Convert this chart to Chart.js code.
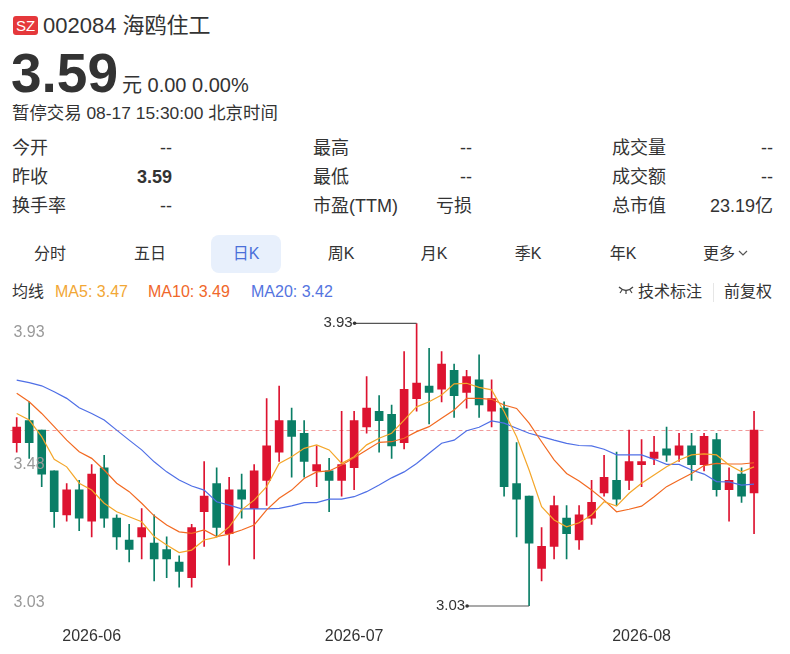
<!DOCTYPE html>
<html>
<head>
<meta charset="utf-8">
<script src="https://cdn.jsdelivr.net/npm/chart.js@4.4.1/dist/chart.umd.min.js"></script>
<style>
body{margin:0;width:790px;height:654px;background:#fff;position:relative;overflow:hidden;
  font-family:"Liberation Sans",Arial,"Noto Sans CJK SC",sans-serif;color:#333}
.a{position:absolute;white-space:nowrap}
.badge{left:13px;top:16px;width:25px;height:19px;background:#e5383b;color:#fff;border-radius:3px;
  font-size:15px;line-height:19px;text-align:center}
.title{left:43px;top:12px;font-size:22px;line-height:28px}
.price{left:11px;top:46px;font-size:55px;line-height:54px;font-weight:bold}
.chg{left:122px;top:75px;font-size:20px;line-height:20px}
.sub{left:12px;top:101px;font-size:17.4px;line-height:24px}
.row{font-size:18px;line-height:24px}
.r{text-align:right;width:120px}
.tab{font-size:16px;line-height:24px;top:242px;width:80px;text-align:center}
.tabon{left:211px;top:235px;width:70px;height:38px;background:#e8f0fc;border-radius:8px}
.leg{top:281px;font-size:16px;line-height:22px}
#wrap{position:absolute;left:0;top:310px;width:790px;height:344px}
</style>
</head>
<body>
<div class="a badge">SZ</div>
<div class="a title">002084 海鸥住工</div>
<div class="a price">3.59</div>
<div class="a chg">元 0.00 0.00%</div>
<div class="a sub">暂停交易 08-17 15:30:00 北京时间</div>

<div class="a row" style="left:12px;top:136px">今开</div>
<div class="a row r" style="left:52px;top:136px">--</div>
<div class="a row" style="left:12px;top:165px">昨收</div>
<div class="a row r" style="left:52px;top:165px;font-weight:bold">3.59</div>
<div class="a row" style="left:12px;top:194px">换手率</div>
<div class="a row r" style="left:52px;top:194px">--</div>

<div class="a row" style="left:313px;top:136px">最高</div>
<div class="a row r" style="left:352px;top:136px">--</div>
<div class="a row" style="left:313px;top:165px">最低</div>
<div class="a row r" style="left:352px;top:165px">--</div>
<div class="a row" style="left:313px;top:194px">市盈(TTM)</div>
<div class="a row r" style="left:352px;top:194px">亏损</div>

<div class="a row" style="left:612px;top:136px">成交量</div>
<div class="a row r" style="left:653px;top:136px">--</div>
<div class="a row" style="left:612px;top:165px">成交额</div>
<div class="a row r" style="left:653px;top:165px">--</div>
<div class="a row" style="left:612px;top:194px">总市值</div>
<div class="a row r" style="left:653px;top:194px">23.19亿</div>

<div class="a tabon"></div>
<div class="a tab" style="left:10px">分时</div>
<div class="a tab" style="left:110px">五日</div>
<div class="a tab" style="left:206px;color:#4a6fd9">日K</div>
<div class="a tab" style="left:301px">周K</div>
<div class="a tab" style="left:394px">月K</div>
<div class="a tab" style="left:488px">季K</div>
<div class="a tab" style="left:583px">年K</div>
<div class="a tab" style="left:686px">更多<svg width="12" height="10" style="margin-left:2px;vertical-align:1px"><polyline points="2,3 6,7 10,3" fill="none" stroke="#555" stroke-width="1.2"/></svg></div>

<div class="a leg" style="left:12px">均线</div>
<div class="a leg" style="left:55px;color:#f2a735">MA5: 3.47</div>
<div class="a leg" style="left:148px;color:#f0672a">MA10: 3.49</div>
<div class="a leg" style="left:251px;color:#5474e0">MA20: 3.42</div>
<div class="a leg" style="left:618px"><svg width="16" height="10" style="margin-right:4px;vertical-align:2px"><path d="M1,2 Q8,9 15,2" fill="none" stroke="#444" stroke-width="1.3"/><line x1="4" y1="5" x2="2" y2="8" stroke="#444" stroke-width="1.2"/><line x1="8" y1="6" x2="8" y2="9" stroke="#444" stroke-width="1.2"/><line x1="12" y1="5" x2="14" y2="8" stroke="#444" stroke-width="1.2"/></svg>技术标注</div>
<div class="a" style="left:713px;top:283px;width:1px;height:19px;background:#e6e6e6"></div>
<div class="a leg" style="left:724px">前复权</div>

<div id="wrap"><canvas id="kline" width="790" height="344"></canvas></div>

<script>
const dates = [
  '2026-05-22','2026-05-25','2026-05-26','2026-05-27','2026-05-28','2026-05-29',
  '2026-06-01','2026-06-02','2026-06-03','2026-06-04','2026-06-05','2026-06-08','2026-06-09','2026-06-10',
  '2026-06-11','2026-06-12','2026-06-15','2026-06-16','2026-06-17','2026-06-18','2026-06-22','2026-06-23',
  '2026-06-24','2026-06-25','2026-06-26','2026-06-29','2026-06-30',
  '2026-07-01','2026-07-02','2026-07-03','2026-07-06','2026-07-07','2026-07-08','2026-07-09','2026-07-10',
  '2026-07-13','2026-07-14','2026-07-15','2026-07-16','2026-07-17','2026-07-20','2026-07-21','2026-07-22',
  '2026-07-23','2026-07-24','2026-07-27','2026-07-28','2026-07-29','2026-07-30','2026-07-31',
  '2026-08-03','2026-08-04','2026-08-05','2026-08-06','2026-08-07','2026-08-10','2026-08-11','2026-08-12',
  '2026-08-13','2026-08-14'
];

const opens = [3.55,3.62,3.59,3.46,3.32,3.40,3.30,3.47,3.31,3.24,
  3.25,3.23,3.21,3.17,3.12,3.33,3.42,3.26,3.40,3.34,
  3.43,3.52,3.62,3.58,3.46,3.46,3.43,3.47,3.60,3.65,
  3.64,3.55,3.69,3.73,3.72,3.78,3.71,3.75,3.65,3.66,
  3.42,3.38,3.15,3.22,3.31,3.24,3.31,3.39,3.43,3.43,
  3.48,3.50,3.53,3.51,3.54,3.48,3.56,3.40,3.45,3.39];
const closes = [3.60,3.55,3.45,3.33,3.40,3.31,3.45,3.31,3.25,3.21,
  3.28,3.18,3.18,3.14,3.28,3.38,3.28,3.40,3.37,3.46,
  3.54,3.62,3.57,3.49,3.48,3.43,3.48,3.62,3.66,3.62,
  3.54,3.72,3.74,3.71,3.80,3.70,3.76,3.67,3.69,3.41,
  3.37,3.23,3.22,3.35,3.26,3.32,3.36,3.44,3.37,3.49,
  3.49,3.52,3.51,3.54,3.48,3.57,3.40,3.43,3.38,3.59];
const highs = [3.63,3.68,3.59,3.46,3.42,3.43,3.48,3.51,3.32,3.29,
  3.34,3.32,3.25,3.19,3.29,3.49,3.47,3.44,3.45,3.48,
  3.69,3.73,3.66,3.62,3.54,3.50,3.65,3.65,3.76,3.70,
  3.67,3.84,3.93,3.85,3.84,3.80,3.78,3.83,3.75,3.68,
  3.55,3.38,3.28,3.38,3.35,3.35,3.43,3.51,3.52,3.59,
  3.56,3.57,3.60,3.58,3.58,3.58,3.58,3.47,3.47,3.65];
const lows = [3.52,3.50,3.41,3.28,3.30,3.27,3.25,3.28,3.21,3.17,
  3.18,3.11,3.12,3.09,3.09,3.22,3.25,3.16,3.31,3.18,
  3.35,3.49,3.44,3.44,3.41,3.33,3.38,3.40,3.58,3.52,
  3.50,3.53,3.65,3.61,3.68,3.63,3.66,3.63,3.60,3.38,
  3.25,3.03,3.11,3.18,3.18,3.21,3.29,3.38,3.35,3.40,
  3.41,3.48,3.49,3.49,3.43,3.46,3.38,3.30,3.36,3.26];

const ma5 = [3.643,3.622,3.569,3.497,3.473,3.421,3.399,3.357,3.330,3.314,
  3.298,3.251,3.224,3.200,3.208,3.240,3.249,3.282,3.336,3.367,
  3.410,3.484,3.505,3.532,3.543,3.527,3.484,3.505,3.543,3.564,
  3.580,3.622,3.664,3.680,3.702,3.737,3.739,3.726,3.718,3.649,
  3.569,3.463,3.346,3.304,3.282,3.295,3.320,3.362,3.348,3.389,
  3.421,3.447,3.473,3.495,3.511,3.514,3.511,3.479,3.457,3.473];
const ma10 = [3.707,3.680,3.643,3.601,3.558,3.521,3.500,3.463,3.421,3.394,
  3.357,3.317,3.288,3.266,3.261,3.272,3.251,3.259,3.272,3.288,
  3.336,3.373,3.399,3.436,3.457,3.460,3.479,3.502,3.527,3.551,
  3.553,3.564,3.585,3.601,3.628,3.654,3.691,3.691,3.688,3.670,
  3.659,3.612,3.553,3.495,3.452,3.428,3.399,3.367,3.330,3.338,
  3.348,3.378,3.410,3.431,3.452,3.477,3.484,3.482,3.482,3.486];
const ma20 = [3.749,3.741,3.731,3.712,3.691,3.661,3.643,3.622,3.590,3.558,
  3.527,3.489,3.457,3.431,3.412,3.399,3.362,3.351,3.339,3.339,
  3.339,3.341,3.349,3.359,3.359,3.370,3.370,3.378,3.394,3.415,
  3.438,3.457,3.484,3.516,3.548,3.558,3.588,3.599,3.619,3.612,
  3.596,3.580,3.569,3.558,3.548,3.541,3.540,3.529,3.511,3.511,
  3.511,3.497,3.481,3.481,3.463,3.450,3.426,3.425,3.415,3.418];

const prevClose = 3.59;
const yTicks = [3.93, 3.48, 3.03];

const UP = '#dd1330';
const DOWN = '#0a7e66';
const candleColors = closes.map((c, i) => c >= opens[i] ? UP : DOWN);

Chart.defaults.font.family = '"Liberation Sans", Arial, sans-serif';

function isMonthStart(i) {
    return i > 0 && dates[i].slice(5, 7) !== dates[i - 1].slice(5, 7);
}

const overlay = {
    id: 'overlay',
    beforeDatasetsDraw(chart) {
        const { ctx, chartArea: a, scales: { y } } = chart;
        const py = Math.round(y.getPixelForValue(prevClose)) + 0.5;
        ctx.save();
        ctx.strokeStyle = '#f29a9a';
        ctx.lineWidth = 1;
        ctx.setLineDash([4, 3]);
        ctx.beginPath();
        ctx.moveTo(a.left, py);
        ctx.lineTo(a.right + 5, py);
        ctx.stroke();
        ctx.restore();
    },
    afterDatasetsDraw(chart) {
        const { ctx, chartArea: a, scales: { x, y } } = chart;
        ctx.save();

        // price labels inside the plot
        ctx.font = '16px "Liberation Sans", Arial, sans-serif';
        ctx.fillStyle = '#999';
        ctx.textAlign = 'left';
        ctx.textBaseline = 'middle';
        yTicks.forEach((v, k) => {
            let py = y.getPixelForValue(v);
            if (k === 0) py += 9;
            else if (k === yTicks.length - 1) py -= 3;
            ctx.fillText(v.toFixed(2), a.left + 3, py);
        });

        // highest / lowest markers
        const hi = highs.indexOf(Math.max(...highs));
        const lo = lows.indexOf(Math.min(...lows));
        const marks = [[hi, highs[hi]], [lo, lows[lo]]];
        ctx.font = '15px "Liberation Sans", Arial, sans-serif';
        ctx.textAlign = 'right';
        ctx.fillStyle = '#333';
        ctx.strokeStyle = '#555';
        ctx.lineWidth = 1.2;
        marks.forEach(([i, v]) => {
            const px = x.getPixelForValue(i);
            const py = y.getPixelForValue(v);
            const sx = px - 62;
            ctx.beginPath();
            ctx.moveTo(sx, py);
            ctx.lineTo(px, py);
            ctx.stroke();
            ctx.beginPath();
            ctx.arc(sx, py, 1.8, 0, Math.PI * 2);
            ctx.fill();
            ctx.fillText(v.toFixed(2), sx - 2, py);
        });
        ctx.restore();
    }
};

function maLine(data, color) {
    return {
        type: 'line',
        data: data,
        borderColor: color,
        borderWidth: 1.2,
        pointRadius: 0,
        tension: 0,
        order: 0
    };
}

new Chart(document.getElementById('kline'), {
    type: 'bar',
    data: {
        labels: dates,
        datasets: [
            {
                data: lows.map((l, i) => [l, highs[i]]),
                backgroundColor: candleColors,
                barThickness: 1,
                grouped: false,
                order: 2
            },
            {
                data: opens.map((o, i) => [o, closes[i]]),
                backgroundColor: candleColors,
                barThickness: 8,
                minBarLength: 1.5,
                grouped: false,
                order: 1
            },
            maLine(ma5, '#f4a62a'),
            maLine(ma10, '#f26a22'),
            maLine(ma20, '#4f6fe6')
        ]
    },
    options: {
        responsive: false,
        animation: false,
        layout: { padding: { left: 10.45, right: 29.7, top: 13.3, bottom: 8 } },
        plugins: { legend: { display: false }, tooltip: { enabled: false } },
        scales: {
            x: {
                grid: { display: false, drawTicks: false },
                border: { display: false },
                ticks: {
                    autoSkip: false,
                    maxRotation: 0,
                    padding: 21,
                    color: '#333',
                    font: { size: 16 },
                    callback: (v, i) => isMonthStart(i) ? dates[i].slice(0, 7) : ''
                },
                afterFit(scale) {
                    scale.height = 40;
                    scale.paddingLeft = 0;
                    scale.paddingRight = 0;
                }
            },
            y: { display: false, min: 3.03, max: 3.93 }
        }
    },
    plugins: [overlay]
});
</script>
</body>
</html>
